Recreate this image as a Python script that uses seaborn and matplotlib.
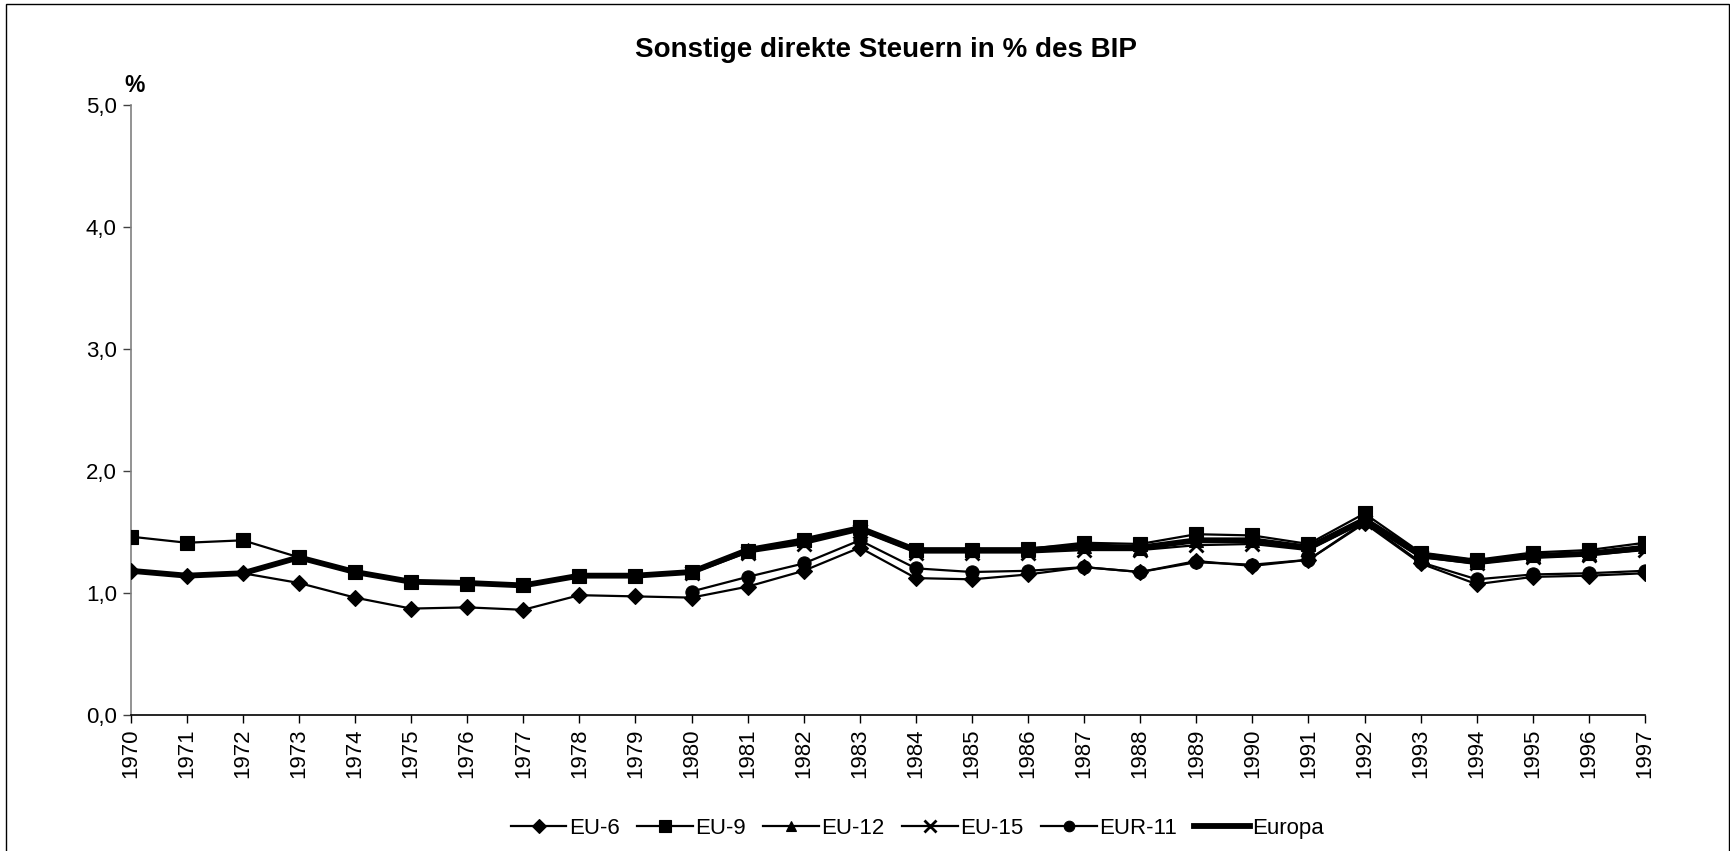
import numpy as np
import pandas as pd
import seaborn as sns
import matplotlib.pyplot as plt
from matplotlib.lines import Line2D
from matplotlib.patches import Rectangle

# Daten
jahre = list(range(1970, 1998))
nan = np.nan

eu6 = [1.18, 1.14, 1.16, 1.08, 0.96, 0.87, 0.88, 0.86, 0.98, 0.97,
       0.96, 1.05, 1.18, 1.37, 1.12, 1.11, 1.15, 1.21, 1.17, 1.26,
       1.22, 1.27, 1.57, 1.24, 1.07, 1.13, 1.14, 1.16]
eu9 = [1.46, 1.41, 1.43, 1.29, 1.17, 1.09, 1.07, 1.06, 1.14, 1.14,
       1.17, 1.34, 1.43, 1.54, 1.35, 1.35, 1.36, 1.41, 1.40, 1.48,
       1.47, 1.40, 1.65, 1.33, 1.27, 1.33, 1.35, 1.41]
eu12 = [nan] * 10 + [1.17, 1.35, 1.43, 1.53, 1.35, 1.35, 1.35, 1.38, 1.37, 1.43,
                     1.43, 1.37, 1.60, 1.31, 1.25, 1.31, 1.33, 1.38]
eu15 = [nan] * 10 + [1.16, 1.33, 1.40, 1.51, 1.33, 1.33, 1.33, 1.35, 1.35, 1.39,
                     1.40, 1.35, 1.58, 1.29, 1.24, 1.29, 1.31, 1.35]
eur11 = [nan] * 10 + [1.01, 1.13, 1.24, 1.43, 1.20, 1.17, 1.18, 1.21, 1.17, 1.25,
                      1.23, 1.27, 1.58, 1.25, 1.11, 1.15, 1.16, 1.18]
europa = [1.18, 1.14, 1.16, 1.29, 1.17, 1.09, 1.08, 1.06, 1.14, 1.14,
          1.17, 1.35, 1.43, 1.53, 1.35, 1.35, 1.35, 1.38, 1.37, 1.43,
          1.43, 1.37, 1.60, 1.31, 1.25, 1.30, 1.32, 1.37]

reihen = ['EU-6', 'EU-9', 'EU-12', 'EU-15', 'EUR-11', 'Europa']
werte = [eu6, eu9, eu12, eu15, eur11, europa]
marker = {'EU-6': 'D', 'EU-9': 's', 'EU-12': '^', 'EU-15': 'x', 'EUR-11': 'o', 'Europa': None}
groesse = {'EU-6': 8.5, 'EU-9': 10, 'EU-12': 9.5, 'EU-15': 10, 'EUR-11': 9.5}

df = pd.DataFrame({'Jahr': jahre})
for r, w in zip(reihen, werte):
    df[r] = w

plt.rcParams['font.family'] = ['Liberation Sans', 'DejaVu Sans']
fig = plt.figure(figsize=(17.31, 8.51), dpi=100)
ax = fig.add_axes([0.0755, 0.1602, 0.8748, 0.7164])

# Europa zuerst, dicke Linie ohne Marker
sns.lineplot(x=df['Jahr'], y=df['Europa'], ax=ax, color='black', linewidth=4.2, zorder=2)
for r in reihen[:-1]:
    sns.lineplot(x=df['Jahr'], y=df[r], ax=ax, color='black', linewidth=1.6,
                 marker=marker[r], markersize=groesse[r], markeredgecolor='black',
                 markeredgewidth=2 if r == 'EU-15' else 0.8, zorder=3)

ax.set_xlim(1970, 1997)
ax.set_ylim(0, 5)
ax.set_xticks(jahre)
ax.set_xticklabels([str(j) for j in jahre], rotation=90, fontsize=16)
ax.set_yticks([0, 1, 2, 3, 4, 5])
ax.set_yticklabels(['0,0', '1,0', '2,0', '3,0', '4,0', '5,0'], fontsize=16)
ax.set_xlabel('')
ax.set_ylabel('')
ax.spines['top'].set_visible(False)
ax.spines['right'].set_visible(False)
ax.spines['left'].set_color('#808080')
ax.spines['left'].set_linewidth(1.2)
ax.spines['bottom'].set_linewidth(1.2)
ax.tick_params(axis='both', direction='out', length=6, width=1.0, colors='black', pad=4)
ax.tick_params(axis='y', color='#404040')

fig.text(0.512, 0.941, 'Sonstige direkte Steuern in % des BIP', ha='center', va='center',
         fontsize=20, fontweight='bold')
fig.text(0.078, 0.900, '%', ha='center', va='center', fontsize=16.5, fontweight='bold')

handles = []
for r in reihen:
    if r == 'Europa':
        handles.append(Line2D([], [], color='black', linewidth=4.2))
    else:
        handles.append(Line2D([], [], color='black', linewidth=1.6, marker=marker[r],
                              markersize=groesse[r] * 0.8,
                              markeredgewidth=2 if r == 'EU-15' else 0.8))
fig.legend(handles, reihen, loc='center', bbox_to_anchor=(0.53, 0.027), ncol=6,
           frameon=False, fontsize=16, handlelength=2.5, handletextpad=0.1,
           columnspacing=0.8)

# Rahmen um die ganze Grafik
fig.patches.append(Rectangle((0.0035, -0.02), 0.9953, 1.0153, transform=fig.transFigure,
                             fill=False, edgecolor='black', linewidth=1.0))

fig.savefig('out.png', dpi=100)
